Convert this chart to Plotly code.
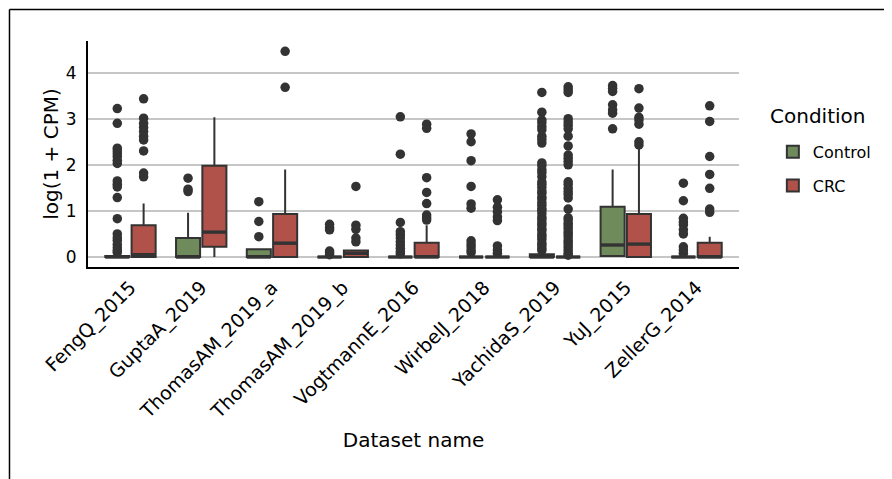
import plotly.graph_objects as go

datasets = ["FengQ_2015", "GuptaA_2019", "ThomasAM_2019_a", "ThomasAM_2019_b",
            "VogtmannE_2016", "WirbelJ_2018", "YachidaS_2019", "YuJ_2015", "ZellerG_2014"]
conditions = ["Control", "CRC"]

# Box statistics (log(1 + CPM))
ctrl_q1 = [0, 0, 0, 0, 0, 0, 0, 0.02, 0]
ctrl_median = [0, 0, 0, 0, 0, 0, 0, 0.26, 0]
ctrl_q3 = [0.02, 0.41, 0.17, 0, 0, 0, 0.06, 1.09, 0]
ctrl_lower = [0, 0, 0, 0, 0, 0, 0, 0, 0]
ctrl_upper = [0.05, 0.96, 0.17, 0, 0, 0, 0.12, 1.90, 0]

crc_q1 = [0, 0.22, 0, 0, 0, 0, 0, 0, 0]
crc_median = [0.05, 0.54, 0.30, 0.08, 0, 0, 0, 0.28, 0]
crc_q3 = [0.69, 1.98, 0.93, 0.14, 0.31, 0, 0, 0.93, 0.31]
crc_lower = [0, 0, 0, 0, 0, 0, 0, 0, 0]
crc_upper = [1.16, 3.03, 1.90, 0.14, 0.69, 0, 0, 2.39, 0.44]

# Outliers per dataset
ctrl_outliers = [
    [3.22, 2.90, 2.36, 2.30, 2.24, 2.18, 2.10, 2.03, 1.65, 1.58, 1.52, 1.29, 0.83, 0.50, 0.42, 0.36, 0.27, 0.20, 0.14, 0.10],
    [1.71, 1.47, 1.42],
    [1.20, 0.77, 0.44],
    [0.71, 0.64, 0.59, 0.13, 0.09, 0.05],
    [3.04, 2.23, 0.75, 0.55, 0.48, 0.41, 0.33, 0.26, 0.19, 0.12, 0.07],
    [2.67, 2.50, 2.09, 1.53, 1.15, 1.06, 0.35, 0.28, 0.22, 0.15, 0.10],
    [3.57, 3.14, 2.97, 2.91, 2.83, 2.76, 2.62, 2.55, 2.47, 2.04, 1.98, 1.89, 1.83, 1.74,
     1.63, 1.58, 1.51, 1.43, 1.38, 1.30, 1.26, 1.18, 1.12, 1.05, 1.01, 0.94, 0.86, 0.81,
     0.74, 0.69, 0.61, 0.57, 0.49, 0.44, 0.38, 0.30, 0.25, 0.19, 0.14],
    [3.72, 3.66, 3.59, 3.30, 3.19, 3.12, 2.78],
    [1.60, 1.22, 0.84, 0.76, 0.70, 0.59, 0.50, 0.22, 0.15, 0.08],
]
crc_outliers = [
    [3.43, 3.01, 2.90, 2.81, 2.72, 2.62, 2.54, 2.30, 1.82, 1.74],
    [],
    [4.46, 3.68],
    [1.53, 0.69, 0.60, 0.41, 0.33],
    [2.88, 2.79, 1.72, 1.40, 1.16, 0.91, 0.85, 0.80],
    [1.24, 1.08, 0.98, 0.87, 0.79, 0.24, 0.15, 0.08],
    [3.69, 3.63, 3.57, 3.00, 2.93, 2.86, 2.78, 2.62, 2.41, 2.21, 2.14, 2.07, 2.00, 1.63,
     1.57, 1.49, 1.42, 1.36, 1.28, 1.04, 0.85, 0.80, 0.73, 0.68, 0.62, 0.55, 0.50, 0.44,
     0.37, 0.32, 0.26, 0.20, 0.14, 0.08, 0.04],
    [3.65, 3.23, 3.03, 2.97, 2.88, 2.50, 2.43],
    [3.28, 2.94, 2.18, 1.79, 1.49, 1.04, 0.97],
]

colors = {"Control": "#6f8a5b", "CRC": "#b0524a"}
edge = "#333333"
offset = 0.186
box_w = 0.34
FONT = "DejaVu Sans"

fig = go.Figure()

groups = [
    ("Control", -offset, ctrl_q1, ctrl_median, ctrl_q3, ctrl_lower, ctrl_upper, ctrl_outliers),
    ("CRC", offset, crc_q1, crc_median, crc_q3, crc_lower, crc_upper, crc_outliers),
]

for name, off, q1, med, q3, lo, up, outl in groups:
    xs = [i + 1 + off for i in range(len(datasets))]
    fig.add_trace(go.Box(
        name=name, x=xs, q1=q1, median=med, q3=q3, lowerfence=lo, upperfence=up,
        width=box_w, whiskerwidth=0, boxpoints=False,
        fillcolor=colors[name], line=dict(color=edge, width=2),
        legendgroup=name, showlegend=True,
    ))

for name, off, q1, med, q3, lo, up, outl in groups:
    mx, my = [], []
    for i, m in enumerate(med):
        c = i + 1 + off
        mx += [c - box_w / 2, c + box_w / 2, None]
        my += [m, m, None]
    fig.add_trace(go.Scatter(x=mx, y=my, mode="lines", line=dict(color=edge, width=3.4),
                             showlegend=False, hoverinfo="skip", legendgroup=name))
    ox, oy = [], []
    for i, vals in enumerate(outl):
        for v in vals:
            ox.append(i + 1 + off)
            oy.append(v)
    fig.add_trace(go.Scatter(x=ox, y=oy, mode="markers",
                             marker=dict(color=edge, size=9.5, line=dict(width=0)),
                             showlegend=False, legendgroup=name))

# page body has an 8px default margin: figure is sized/placed to compensate
fig.update_layout(
    width=884, height=471,
    margin=dict(l=80, r=153, t=33, b=212),
    paper_bgcolor="white", plot_bgcolor="white",
    font=dict(family=FONT, color="black", size=16),
    legend=dict(
        font=dict(size=16, family=FONT),
        x=1.052, y=0.585, xanchor="left", yanchor="top",
        tracegroupgap=10, traceorder="grouped",
    ),
    annotations=[
        dict(text="Condition", xref="paper", yref="paper", x=1.045, y=0.668,
             xanchor="left", yanchor="middle", showarrow=False,
             font=dict(size=20, family=FONT, color="black")),
    ],
    shapes=[
        dict(type="line", xref="paper", yref="paper", x0=-0.1206, x1=1.3, y0=1.1394, y1=1.1394,
             line=dict(color="black", width=1.5)),
        dict(type="line", xref="paper", yref="paper", x0=-0.1206, x1=-0.1206, y0=-1.2, y1=1.1394,
             line=dict(color="black", width=1.5)),
    ],
)

fig.update_xaxes(
    range=[0.4, 9.6], tickmode="array", tickvals=list(range(1, len(datasets) + 1)),
    ticktext=datasets, tickangle=-45, tickfont=dict(size=19, family=FONT),
    showline=True, linecolor="black", linewidth=2, showgrid=False, zeroline=False,
    ticks="", title=dict(text="Dataset name", font=dict(size=20, family=FONT), standoff=11),
)
fig.update_yaxes(
    range=[-0.217, 4.685], tickvals=[0, 1, 2, 3, 4], tickfont=dict(size=17, family=FONT),
    showline=True, linecolor="black", linewidth=2, showgrid=True, gridcolor="#c6c6c6",
    gridwidth=1.8, zeroline=False, ticks="", ticklabelstandoff=6,
    title=dict(text="log(1 + CPM)", font=dict(size=20, family=FONT), standoff=2),
)

fig.write_html("out.html")
